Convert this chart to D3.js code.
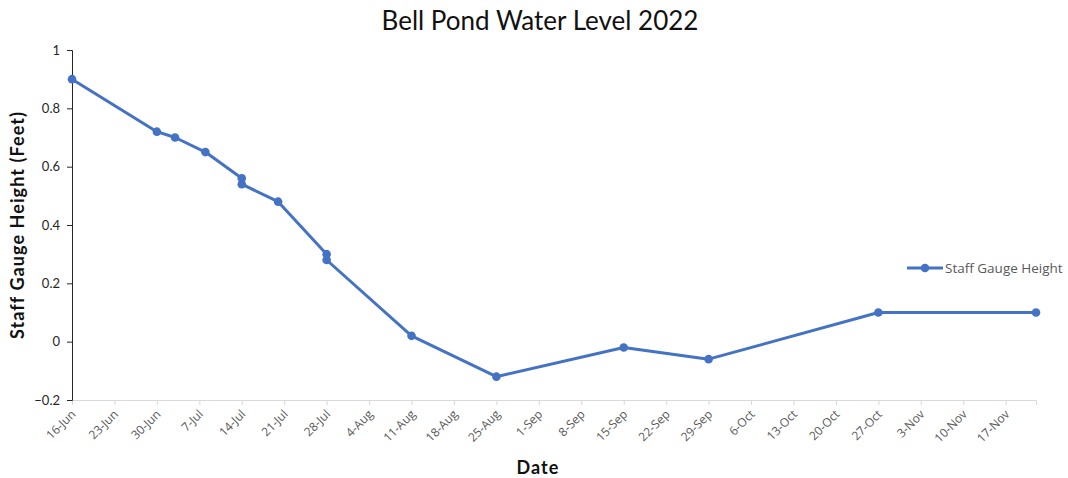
<!DOCTYPE html>
<html lang="en">
  <head>
    <meta charset="utf-8" />
    <title>Bell Pond Water Level 2022</title>
    <style>
      body { margin: 0; background: #fff; }
    </style>
  </head>
  <body>
    <svg id="viz"></svg>
    <script src="https://d3js.org/d3.v7.min.js"></script>
    <script>
        var width = 1068;
        var height = 478;

        // readings (staff gauge, feet)
        var dates = ["2022-06-16", "2022-06-30", "2022-07-03", "2022-07-08", "2022-07-14", "2022-07-14",
                     "2022-07-20", "2022-07-28", "2022-07-28", "2022-08-11", "2022-08-25", "2022-09-15",
                     "2022-09-29", "2022-10-27", "2022-11-22"];
        var levels = [0.9, 0.72, 0.7, 0.65, 0.56, 0.54, 0.48, 0.3, 0.28, 0.02, -0.12, -0.02, -0.06, 0.1, 0.1];
        var yTicks = [-0.2, 0, 0.2, 0.4, 0.6, 0.8, 1];
        var xStart = "2022-06-16", xEnd = "2022-11-22";

        var parse = d3.timeParse("%Y-%m-%d");
        var data = dates.map(function(d, i) { return {date: parse(d), value: levels[i]}; });

        var margin = {left: 72, right: 32, top: 50, bottom: 78};

        var x = d3.scaleTime()
            .domain([parse(xStart), parse(xEnd)])
            .range([margin.left, width - margin.right]);
        var y = d3.scaleLinear()
            .domain([-0.2, 1])
            .range([height - margin.bottom, margin.top]);

        var svg = d3.select("#viz")
            .attr("width", width)
            .attr("height", height);

        var blue = "#4472C4";

        svg.append("text")
            .attr("x", 540)
            .attr("y", 30)
            .attr("text-anchor", "middle")
            .style("font-family", "Lato, sans-serif")
            .style("font-size", "26px")
            .style("fill", "#111")
            .text("Bell Pond Water Level 2022");

        // x axis, weekly ticks
        var xTicks = d3.timeDay.range(parse(xStart), d3.timeDay.offset(parse(xEnd), 1), 7);
        var xAxis = svg.append("g")
            .attr("transform", "translate(0," + y(-0.2) + ")")
            .call(d3.axisBottom(x).tickValues(xTicks).tickFormat(d3.timeFormat("%-d-%b")).tickSizeOuter(0).tickSize(5));
        xAxis.select(".domain").attr("stroke", "#d9d9d9");
        xAxis.selectAll(".tick line").attr("stroke", "#d9d9d9");
        xAxis.selectAll(".tick text")
            .attr("fill", "#595959")
            .style("font-family", "'Open Sans', sans-serif")
            .style("font-size", "12px")
            .attr("text-anchor", "end")
            .attr("x", 0)
            .attr("y", 0)
            .attr("dy", "0.35em")
            .attr("transform", "translate(1,12) rotate(-45)");

        // y axis
        var yAxis = svg.append("g")
            .attr("transform", "translate(" + margin.left + ",0)")
            .call(d3.axisLeft(y).tickValues(yTicks).tickFormat(function(d) { return d3.format("")(+d.toFixed(1)); }).tickSizeOuter(0).tickSize(5));
        yAxis.select(".domain").attr("stroke", "#262626");
        yAxis.selectAll(".tick line").attr("stroke", "#262626");
        yAxis.selectAll(".tick text")
            .attr("fill", "#262626")
            .attr("x", -12)
            .style("font-family", "Lato, sans-serif")
            .style("font-size", "13px");

        svg.append("text")
            .attr("transform", "translate(24," + ((y(1) + y(-0.2)) / 2) + ") rotate(-90)")
            .attr("text-anchor", "middle")
            .style("font-family", "Lato, sans-serif")
            .style("font-weight", "bold")
            .style("font-size", "18px")
            .style("letter-spacing", "0.06em")
            .style("fill", "#111")
            .text("Staff Gauge Height (Feet)");

        svg.append("text")
            .attr("x", 538)
            .attr("y", 474)
            .attr("text-anchor", "middle")
            .style("font-family", "Lato, sans-serif")
            .style("font-weight", "bold")
            .style("font-size", "18px")
            .style("letter-spacing", "0.06em")
            .style("fill", "#111")
            .text("Date");

        var line = d3.line()
            .x(function(d) { return x(d.date); })
            .y(function(d) { return y(d.value); });

        svg.append("path")
            .datum(data)
            .attr("d", line)
            .attr("fill", "none")
            .attr("stroke", blue)
            .attr("stroke-width", 3)
            .attr("stroke-linejoin", "round");

        svg.append("g").selectAll("circle")
            .data(data)
            .enter()
            .append("circle")
            .attr("cx", function(d) { return x(d.date); })
            .attr("cy", function(d) { return y(d.value); })
            .attr("r", 4.3)
            .attr("fill", blue);

        // legend
        var legend = svg.append("g").attr("transform", "translate(907,268)");
        legend.append("line")
            .attr("x1", 0).attr("x2", 36)
            .attr("stroke", blue)
            .attr("stroke-width", 3);
        legend.append("circle")
            .attr("cx", 18)
            .attr("r", 4.3)
            .attr("fill", blue);
        legend.append("text")
            .attr("x", 38)
            .attr("dy", "0.35em")
            .style("font-family", "'Open Sans', sans-serif")
            .style("font-size", "13.5px")
            .style("fill", "#595959")
            .text("Staff Gauge Height");
    </script>
  </body>
</html>
